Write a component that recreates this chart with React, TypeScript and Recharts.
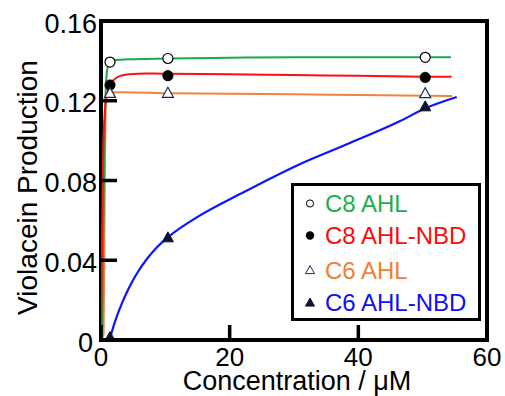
import React from 'react';
import { ComposedChart, Line, Scatter, XAxis, YAxis, ReferenceArea, Legend, Label } from 'recharts';

// ---------- data ----------
const xTicks = [0, 20, 40, 60];
const yTicks = [0, 0.04, 0.08, 0.12, 0.16];
const yTickLabels = ['0', '0.04', '0.08', '0.12', '0.16'];

const seriesNames = ['C8 AHL', 'C8 AHL-NBD', 'C6 AHL', 'C6 AHL-NBD'];

// measured points (concentration, µM)
const conc = [1.4, 10.4, 50.4];
const c8AhlPts = [0.1394, 0.1412, 0.1418];
const c8NbdPts = [0.1279, 0.1326, 0.1317];
const c6AhlPts = [0.1239, 0.124, 0.1238];
const c6NbdPts = [0.0015, 0.0515, 0.1172];

// fitted curves
const c8AhlCurveX = [0, 0.15, 0.3, 0.5, 0.7, 0.9, 1.1, 1.4, 2, 3, 5, 10.5, 20, 30, 40, 54.4];
const c8AhlCurveY = [0, 0.002, 0.04, 0.09, 0.122, 0.134, 0.1375, 0.1393, 0.1402, 0.1406, 0.1408, 0.1412, 0.1416, 0.1418, 0.1418, 0.1418];

const c8NbdCurveX = [0, 0.1, 0.3, 0.6, 1, 1.4, 2, 3, 4.5, 7, 10.5, 20, 30, 40, 50.4, 54.5];
const c8NbdCurveY = [0, 0.03, 0.09, 0.115, 0.124, 0.1279, 0.1305, 0.1325, 0.1333, 0.1337, 0.1336, 0.1333, 0.1329, 0.1325, 0.1321, 0.132];

const c6AhlCurveX = [0, 0.4, 0.55, 0.7, 0.9, 1.4, 3, 10.5, 20, 30, 40, 54.6];
const c6AhlCurveY = [0, 0.003, 0.06, 0.115, 0.1235, 0.1242, 0.1243, 0.1238, 0.1235, 0.1232, 0.1229, 0.1224];

const c6NbdCurveX = [1.4, 2.2, 3.2, 4.0, 4.8, 5.8, 7.1, 8.7, 10.4, 15.4, 21.6, 30.9, 38.7, 46.5, 50.4, 55.3];
const c6NbdCurveY = [0.001, 0.0095, 0.018, 0.0238, 0.029, 0.0345, 0.0405, 0.0465, 0.0515, 0.0625, 0.0732, 0.0882, 0.0988, 0.1098, 0.1162, 0.1219];

// ---------- helpers ----------
const zip = (xs: number[], ys: number[]) => xs.map((x, i) => ({ x, y: ys[i] }));

const FONT = '"Liberation Sans", Arial, Helvetica, sans-serif';
const COLORS = {
  green: '#1fa84a',
  red: '#ff1010',
  orange: '#f0843e',
  blue: '#0a14ff',
};
const TEXT_COLORS = ['#1fae4c', '#ff0a0a', '#ef7f36', '#1010f0'];
const TRI_STROKE = '#1c2a5a';
const TRI_FILL = '#0c1230';

const OpenCircle = (p: any) => (
  <circle cx={p.cx} cy={p.cy} r={5} fill="#fff" stroke="#000" strokeWidth={1.2} />
);
const FilledCircle = (p: any) => (
  <circle cx={p.cx} cy={p.cy} r={5.3} fill="#000" stroke="#000" strokeWidth={0.5} />
);
const triPath = (cx: number, cy: number, w: number, h: number) =>
  `M${cx},${cy - h * 0.55} L${cx + w / 2},${cy + h * 0.45} L${cx - w / 2},${cy + h * 0.45} Z`;
const OpenTri = (p: any) => (
  <path d={triPath(p.cx, p.cy, 11, 10)} fill="#fff" stroke={TRI_STROKE} strokeWidth={1.2} />
);
const FilledTri = (p: any) => (
  <path d={triPath(p.cx, p.cy, 11, 10)} fill={TRI_FILL} stroke={TRI_FILL} strokeWidth={1} />
);

const XTick = (p: any) => {
  const { x, y, payload } = p;
  return (
    <g>
      <line x1={x} x2={x} y1={y} y2={y - 15} stroke="#000" strokeWidth={3.5} />
      <text x={x} y={y + 26} textAnchor="middle" fontSize={26} fontFamily={FONT} fill="#000">
        {payload.value}
      </text>
    </g>
  );
};

const YTick = (p: any) => {
  const { x, y, payload, index } = p;
  const label = yTickLabels[index] ?? String(payload.value);
  const shift = payload.value === 0 ? -4 : 0;
  return (
    <g>
      <line x1={x} x2={x + 16} y1={y} y2={y} stroke="#000" strokeWidth={3.5} />
      <text x={x - 4 + shift} y={y + 11.5} textAnchor="end" fontSize={27} fontFamily={FONT} fill="#000">
        {label}
      </text>
    </g>
  );
};

const XLabel = (p: any) => {
  const vb = p.viewBox || {};
  return (
    <text x={vb.x + vb.width / 2 + 3} y={vb.y + 50} textAnchor="middle" fontSize={27} fontFamily={FONT} fill="#000">
      Concentration / μM
    </text>
  );
};

const YLabel = (p: any) => {
  const vb = p.viewBox || {};
  const cx = vb.x + 37;
  const cy = vb.y + vb.height / 2 + 7;
  return (
    <text x={cx} y={cy} transform={`rotate(-90, ${cx}, ${cy})`} textAnchor="middle" fontSize={28} fontFamily={FONT} fill="#000">
      Violacein Production
    </text>
  );
};

const legendRowsY = [20.5, 52.5, 87, 119.5];

const LegendBox = () => {
  const symbols = [
    <circle key="s0" cx={19} cy={legendRowsY[0]} r={3.6} fill="#fff" stroke="#000" strokeWidth={1} />,
    <circle key="s1" cx={19} cy={legendRowsY[1]} r={4.2} fill="#000" />,
    <path key="s2" d={triPath(19, legendRowsY[2], 9, 8)} fill="#fff" stroke={TRI_STROKE} strokeWidth={1} />,
    <path key="s3" d={triPath(19, legendRowsY[3], 9, 8)} fill={TRI_FILL} stroke={TRI_FILL} strokeWidth={1} />,
  ];
  return (
    <svg width={191} height={139} style={{ display: 'block' }}>
      <rect x={1.5} y={1.5} width={187} height={135} fill="#fff" stroke="#000" strokeWidth={3} />
      {symbols}
      {seriesNames.map((n, i) => (
        <text key={n} x={34} y={legendRowsY[i] + 8.6} fontSize={24} fontFamily={FONT} fill={TEXT_COLORS[i]}>
          {n}
        </text>
      ))}
    </svg>
  );
};

export default function App() {
  return (
    <div style={{ position: 'absolute', left: 0, top: 0, background: '#fff' }}>
      <ComposedChart width={505} height={396} margin={{ top: 21, right: 18, left: 0, bottom: 0 }}>
        <XAxis
          type="number"
          dataKey="x"
          domain={[0, 60]}
          ticks={xTicks}
          allowDataOverflow
          axisLine={false}
          tickLine={false}
          tickSize={0}
          tickMargin={0}
          height={56}
          tick={<XTick />}
          interval={0}
        >
          <Label content={<XLabel />} />
        </XAxis>
        <YAxis
          type="number"
          dataKey="y"
          domain={[0, 0.16]}
          ticks={yTicks}
          allowDataOverflow
          axisLine={false}
          tickLine={false}
          tickSize={0}
          tickMargin={0}
          width={101}
          tick={<YTick />}
          interval={0}
        >
          <Label content={<YLabel />} />
        </YAxis>
        <ReferenceArea x1={0} x2={60} y1={0} y2={0.16} fill="none" fillOpacity={0} stroke="#000" strokeWidth={4} ifOverflow="visible" />
        <Line data={zip(c6AhlCurveX, c6AhlCurveY)} dataKey="y" type="monotone" stroke={COLORS.orange} strokeWidth={2} dot={false} activeDot={false} isAnimationActive={false} />
        <Line data={zip(c8AhlCurveX, c8AhlCurveY)} dataKey="y" type="monotone" stroke={COLORS.green} strokeWidth={2} dot={false} activeDot={false} isAnimationActive={false} />
        <Line data={zip(c8NbdCurveX, c8NbdCurveY)} dataKey="y" type="monotone" stroke={COLORS.red} strokeWidth={2} dot={false} activeDot={false} isAnimationActive={false} />
        <Line data={zip(c6NbdCurveX, c6NbdCurveY)} dataKey="y" type="monotone" stroke={COLORS.blue} strokeWidth={2.2} dot={false} activeDot={false} isAnimationActive={false} />
        <Scatter data={zip(conc, c8AhlPts)} dataKey="y" shape={OpenCircle} isAnimationActive={false} />
        <Scatter data={zip(conc, c8NbdPts)} dataKey="y" shape={FilledCircle} isAnimationActive={false} />
        <Scatter data={zip(conc, c6AhlPts)} dataKey="y" shape={OpenTri} isAnimationActive={false} />
        <Scatter data={zip(conc, c6NbdPts)} dataKey="y" shape={FilledTri} isAnimationActive={false} />
        <Legend
          layout="horizontal"
          verticalAlign="middle"
          align="center"
          content={<LegendBox />}
          wrapperStyle={{ position: 'absolute', left: 291, top: 183, width: 191, height: 139 }}
        />
      </ComposedChart>
    </div>
  );
}
